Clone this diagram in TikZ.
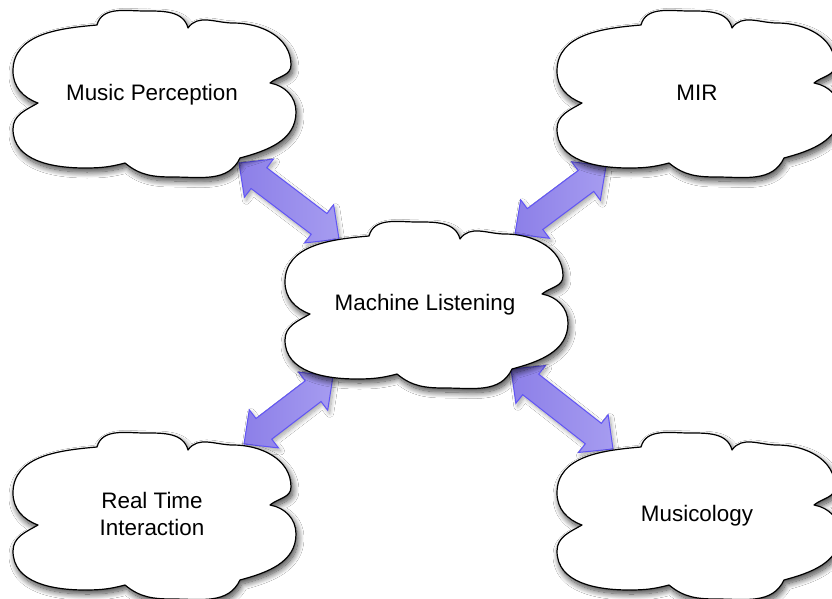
\documentclass[tikz,border=0pt]{standalone}
\usepackage{fontspec}
\setmainfont{Liberation Sans}
\usetikzlibrary{calc,shadows.blur}

\definecolor{arrowline}{RGB}{96,84,246}
\definecolor{arrowdark}{RGB}{140,127,232}
\definecolor{arrowlight}{RGB}{166,156,240}

% dimensions of the two-headed block arrows
\def\arrHead{25pt}
\def\arrHalfHead{24pt}
\def\arrHalfShaft{13pt}

% two-headed block arrow between two named points
\newcommand\blockarrow[2]{%
  \draw[bidir] (#1)
    -- ($(#1)!\arrHead!(#2)!\arrHalfHead!90:(#2)$)
    -- ($(#1)!\arrHead!(#2)!\arrHalfShaft!90:(#2)$)
    -- ($(#2)!\arrHead!(#1)!\arrHalfShaft!-90:(#1)$)
    -- ($(#2)!\arrHead!(#1)!\arrHalfHead!-90:(#1)$)
    -- (#2)
    -- ($(#2)!\arrHead!(#1)!\arrHalfHead!90:(#1)$)
    -- ($(#2)!\arrHead!(#1)!\arrHalfShaft!90:(#1)$)
    -- ($(#1)!\arrHead!(#2)!\arrHalfShaft!-90:(#2)$)
    -- ($(#1)!\arrHead!(#2)!\arrHalfHead!-90:(#2)$)
    -- cycle;}

\tikzset{
  cloudline/.style={draw=black, line width=1.2pt, fill=white, line join=round,
    blur shadow={shadow xshift=2pt, shadow yshift=-4pt, shadow blur radius=6pt,
      shadow blur steps=14, shadow opacity=75}},
  bidir/.style={draw=arrowline, line width=1pt, left color=arrowdark,
    right color=arrowlight, line join=miter,
    blur shadow={shadow xshift=2pt, shadow yshift=-3pt, shadow blur radius=4pt,
      shadow blur steps=10, shadow opacity=35}},
  cloudtext/.style={font=\fontsize{22.4}{27}\selectfont, align=center,
    inner sep=0pt, anchor=base},
  % cloud outline, drawn from its top-left corner (282 x 166)
  pics/cloud/.style={code={
    \path[cloudline] (25,-92)
      to[out=160,in=-90] (0,-60)
      to[out=90,in=185] (84,-14)
      to[out=75,in=180] (132,0)
      to[out=0,in=105] (175,-17)
      to[out=55,in=180] (220,-12)
      to[out=0,in=90] (278,-54)
      to[out=-90,in=40] (257,-72)
      to[out=-10,in=90] (283,-101)
      to[out=-90,in=15] (227,-147)
      to[out=-115,in=0] (160,-166)
      to[out=180,in=-40] (112,-152)
      to[out=-165,in=0] (72,-157)
      to[out=180,in=-90] (0,-118)
      to[out=90,in=-150] (25,-92)
      -- cycle;
  }}
}

\begin{document}
\begin{tikzpicture}[x=1pt, y=1pt]
  \useasboundingbox[fill=white] (0,0) rectangle (832,-599);

  % end points of the connectors
  \coordinate (a1s) at (239,-163);
  \coordinate (a1e) at (339,-239);
  \coordinate (a2s) at (515,-234);
  \coordinate (a2e) at (606,-166);
  \coordinate (a3s) at (244,-444);
  \coordinate (a3e) at (333,-376);
  \coordinate (a4s) at (511,-369);
  \coordinate (a4e) at (613,-449);

  \blockarrow{a1s}{a1e}
  \blockarrow{a2s}{a2e}
  \blockarrow{a3s}{a3e}
  \blockarrow{a4s}{a4e}

  % clouds
  \pic at (13,-11) {cloud};
  \pic at (557,-11) {cloud};
  \pic at (285,-222) {cloud};
  \pic at (13,-433) {cloud};
  \pic at (557,-433) {cloud};

  % labels
  \node[cloudtext] (mp)  at (152,-100.7) {Music Perception};
  \node[cloudtext] (mir) at (697,-100.7) {MIR};
  \node[cloudtext] (ml)  at (425,-310.7) {Machine Listening};
  \node[cloudtext] (rti) at (152,-535) {Real Time\\Interaction};
  \node[cloudtext] (mus) at (697,-521.7) {Musicology};
\end{tikzpicture}
\end{document}
